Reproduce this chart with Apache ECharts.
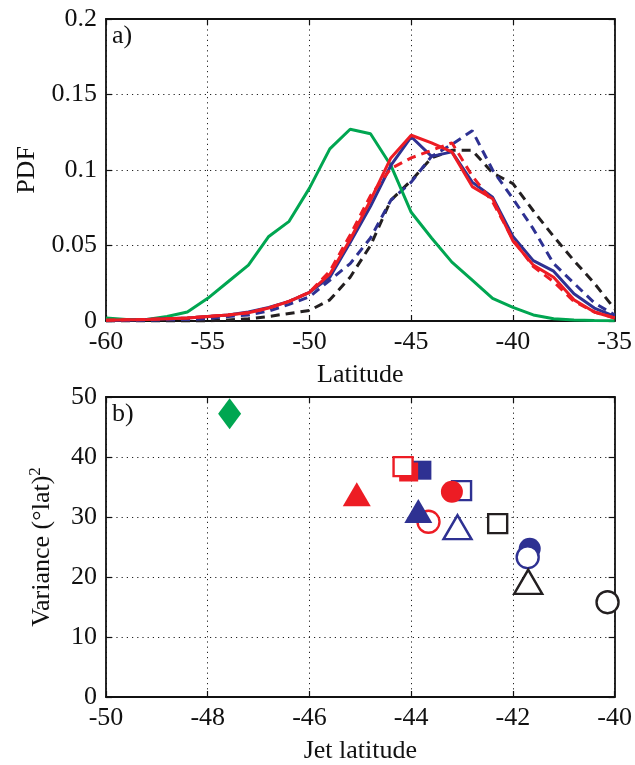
<!DOCTYPE html>
<html>
<head>
<meta charset="utf-8">
<script src="https://cdn.jsdelivr.net/npm/echarts@6/dist/echarts.min.js"></script>
<style>
html,body{margin:0;padding:0;background:#fff;}
#chart{width:635px;height:765px;}
</style>
</head>
<body>
<div id="chart"></div>
<script>
// ---------- Panel a) data ----------
const latitude = [-60,-59,-58,-57,-56,-55,-54,-53,-52,-51,-50,-49,-48,-47,-46,-45,-44,-43,-42,-41,-40,-39,-38,-37,-36,-35];
const greenSolid = [0.002,0.001,0.001,0.003,0.006,0.015,0.026,0.037,0.056,0.066,0.088,0.114,0.127,0.124,0.103,0.072,0.055,0.039,0.027,0.015,0.009,0.004,0.0015,0.0007,0.0003,0.0001];
const blueSolid = [0.0003,0.0005,0.001,0.0015,0.002,0.003,0.004,0.006,0.009,0.013,0.019,0.029,0.052,0.076,0.103,0.122,0.109,0.112,0.092,0.082,0.056,0.040,0.033,0.018,0.0086,0.003];
const redSolid = [0.0005,0.0008,0.001,0.0015,0.002,0.003,0.004,0.0055,0.0086,0.013,0.019,0.031,0.054,0.080,0.108,0.123,0.118,0.112,0.089,0.081,0.053,0.037,0.029,0.014,0.006,0.002];
const redDashed = [0.0005,0.0008,0.001,0.0015,0.002,0.003,0.004,0.0055,0.0086,0.013,0.019,0.033,0.057,0.083,0.101,0.108,0.113,0.118,0.096,0.079,0.054,0.036,0.026,0.013,0.006,0.002];
const blueDashed = [0.0002,0.0003,0.0005,0.0008,0.001,0.0015,0.003,0.004,0.0066,0.011,0.016,0.027,0.038,0.055,0.080,0.092,0.109,0.117,0.126,0.100,0.081,0.061,0.038,0.025,0.012,0.004];
const blackDashed = [0,0,0,0,0,0,0.0007,0.0015,0.003,0.005,0.007,0.014,0.029,0.050,0.080,0.093,0.108,0.113,0.113,0.098,0.091,0.073,0.056,0.040,0.025,0.008];

// ---------- Panel b) data ----------
const jetLatitude = [-47.57,-45.07,-43.79,-44.05,-44.16,-43.01,-43.20,-43.66,-43.86,-43.09,-42.30,-41.67,-41.71,-41.70,-40.14];
const jetVariance = [47.2,33.8,37.8,37.5,38.4,34.4,34.2,29.2,31.0,28.3,28.9,24.7,23.3,19.2,15.8];

// ---------- tick labels ----------
const xTicksA = [-60,-55,-50,-45,-40,-35];
const yTicksA = [0,0.05,0.1,0.15,0.2];
const xTicksB = [-50,-48,-46,-44,-42,-40];
const yTicksB = [0,10,20,30,40,50];

// ---------- styles (kept apart from data) ----------
const C = {green:'#00A651', blue:'#2E3192', red:'#ED1C24', black:'#231F20'};
const markerStyle = [
  {shape:'diamond',  color:C.green, filled:true},
  {shape:'triangle', color:C.red,   filled:true},
  {shape:'rect',     color:C.blue,  filled:true},
  {shape:'rect',     color:C.red,   filled:true},
  {shape:'rect',     color:C.red,   filled:false},
  {shape:'rect',     color:C.blue,  filled:false},
  {shape:'circle',   color:C.red,   filled:true},
  {shape:'circle',   color:C.red,   filled:false},
  {shape:'triangle', color:C.blue,  filled:true},
  {shape:'triangle', color:C.blue,  filled:false},
  {shape:'rect',     color:C.black, filled:false},
  {shape:'circle',   color:C.blue,  filled:true},
  {shape:'circle',   color:C.blue,  filled:false},
  {shape:'triangle', color:C.black, filled:false},
  {shape:'circle',   color:C.black, filled:false}
];
const symSize = {diamond:[23,31], triangle:[28,24], rect:[19,19], circle:[22,22]};

const FONT = 'Liberation Serif';
const gridLine = {show:true, lineStyle:{color:'#222', width:1, type:[1.2,4]}};
const axisLineStyle = {show:true, onZero:false, lineStyle:{color:'#111', width:1.8}};
const tick = {show:true, inside:true, length:6, lineStyle:{color:'#111', width:1.2}};
const lblStyle = {fontFamily:FONT, fontSize:26, color:'#111'};

function pairs(xs, ys){ return xs.map((x,i)=>[x, ys[i]]); }

function mainX(grid, min, max, interval, name){
  return {gridIndex:grid, type:'value', position:'bottom', min, max, interval,
    axisLine:axisLineStyle, axisTick:tick, splitLine:gridLine,
    axisLabel:Object.assign({margin:8, showMinLabel:true, showMaxLabel:true}, lblStyle),
    name, nameLocation:'middle', nameGap:41,
    nameTextStyle:{fontFamily:FONT, fontSize:26, color:'#111'}};
}
function boxX(grid, min, max, interval){
  return {gridIndex:grid, type:'value', position:'top', min, max, interval,
    axisLine:axisLineStyle, axisTick:tick, splitLine:{show:false}, axisLabel:{show:false}};
}
function mainY(grid, min, max, interval, name, gap, extraName){
  return {gridIndex:grid, type:'value', position:'left', min, max, interval,
    axisLine:axisLineStyle, axisTick:tick, splitLine:gridLine,
    axisLabel:Object.assign({margin:9, showMinLabel:true, showMaxLabel:true}, lblStyle),
    name, nameLocation:'middle', nameGap:gap,
    nameTextStyle:Object.assign({fontFamily:FONT, fontSize:26, color:'#111'}, extraName||{})};
}
function boxY(grid, min, max, interval){
  return {gridIndex:grid, type:'value', position:'right', min, max, interval,
    axisLine:axisLineStyle, axisTick:tick, splitLine:{show:false}, axisLabel:{show:false}};
}

function lineSeries(data, color, dashed){
  return {type:'line', xAxisIndex:0, yAxisIndex:0, data:pairs(latitude, data),
    showSymbol:false, symbol:'none', smooth:false, silent:true,
    lineStyle:{color, width:3, opacity:1, type: dashed ? [9,6] : 'solid'}};
}

const scatterData = jetLatitude.map((x,i)=>{
  const st = markerStyle[i];
  return {value:[x, jetVariance[i]], symbol:st.shape, symbolSize:symSize[st.shape],
    itemStyle: st.filled ? {color:st.color, borderWidth:0, opacity:1}
                         : {color:'#fff', borderColor:st.color, borderWidth:2.4, opacity:1}};
});

const chart = echarts.init(document.getElementById('chart'), null, {renderer:'canvas'});
chart.setOption({
  animation:false,
  backgroundColor:'#fff',
  grid:[
    {left:106, right:14, top:19, height:302, containLabel:false},
    {left:106, right:14, top:397, height:302, containLabel:false}
  ],
  xAxis:[
    mainX(0, xTicksA[0], xTicksA[xTicksA.length-1], 5, 'Latitude'),
    boxX(0, xTicksA[0], xTicksA[xTicksA.length-1], 5),
    mainX(1, xTicksB[0], xTicksB[xTicksB.length-1], 2, 'Jet latitude'),
    boxX(1, xTicksB[0], xTicksB[xTicksB.length-1], 2)
  ],
  yAxis:[
    mainY(0, yTicksA[0], yTicksA[yTicksA.length-1], 0.05, 'PDF', 66),
    boxY(0, yTicksA[0], yTicksA[yTicksA.length-1], 0.05),
    mainY(1, yTicksB[0], yTicksB[yTicksB.length-1], 10, 'Variance (°lat){sup|2}', 48,
      {rich:{sup:{fontFamily:FONT, fontSize:17, color:'#111', padding:[0,0,14,0]}}}),
    boxY(1, yTicksB[0], yTicksB[yTicksB.length-1], 10)
  ],
  graphic:[
    {type:'text', left:112, top:23, style:{text:'a)', font:'26px "Liberation Serif"', fill:'#111'}},
    {type:'text', left:112, top:401, style:{text:'b)', font:'26px "Liberation Serif"', fill:'#111'}}
  ],
  series:[
    lineSeries(blackDashed, C.black, true),
    lineSeries(blueDashed, C.blue, true),
    lineSeries(greenSolid, C.green, false),
    lineSeries(blueSolid, C.blue, false),
    lineSeries(redDashed, C.red, true),
    lineSeries(redSolid, C.red, false),
    {type:'scatter', xAxisIndex:2, yAxisIndex:2, data:scatterData, silent:true,
     itemStyle:{opacity:1}, emphasis:{disabled:true}}
  ]
});
</script>
</body>
</html>
